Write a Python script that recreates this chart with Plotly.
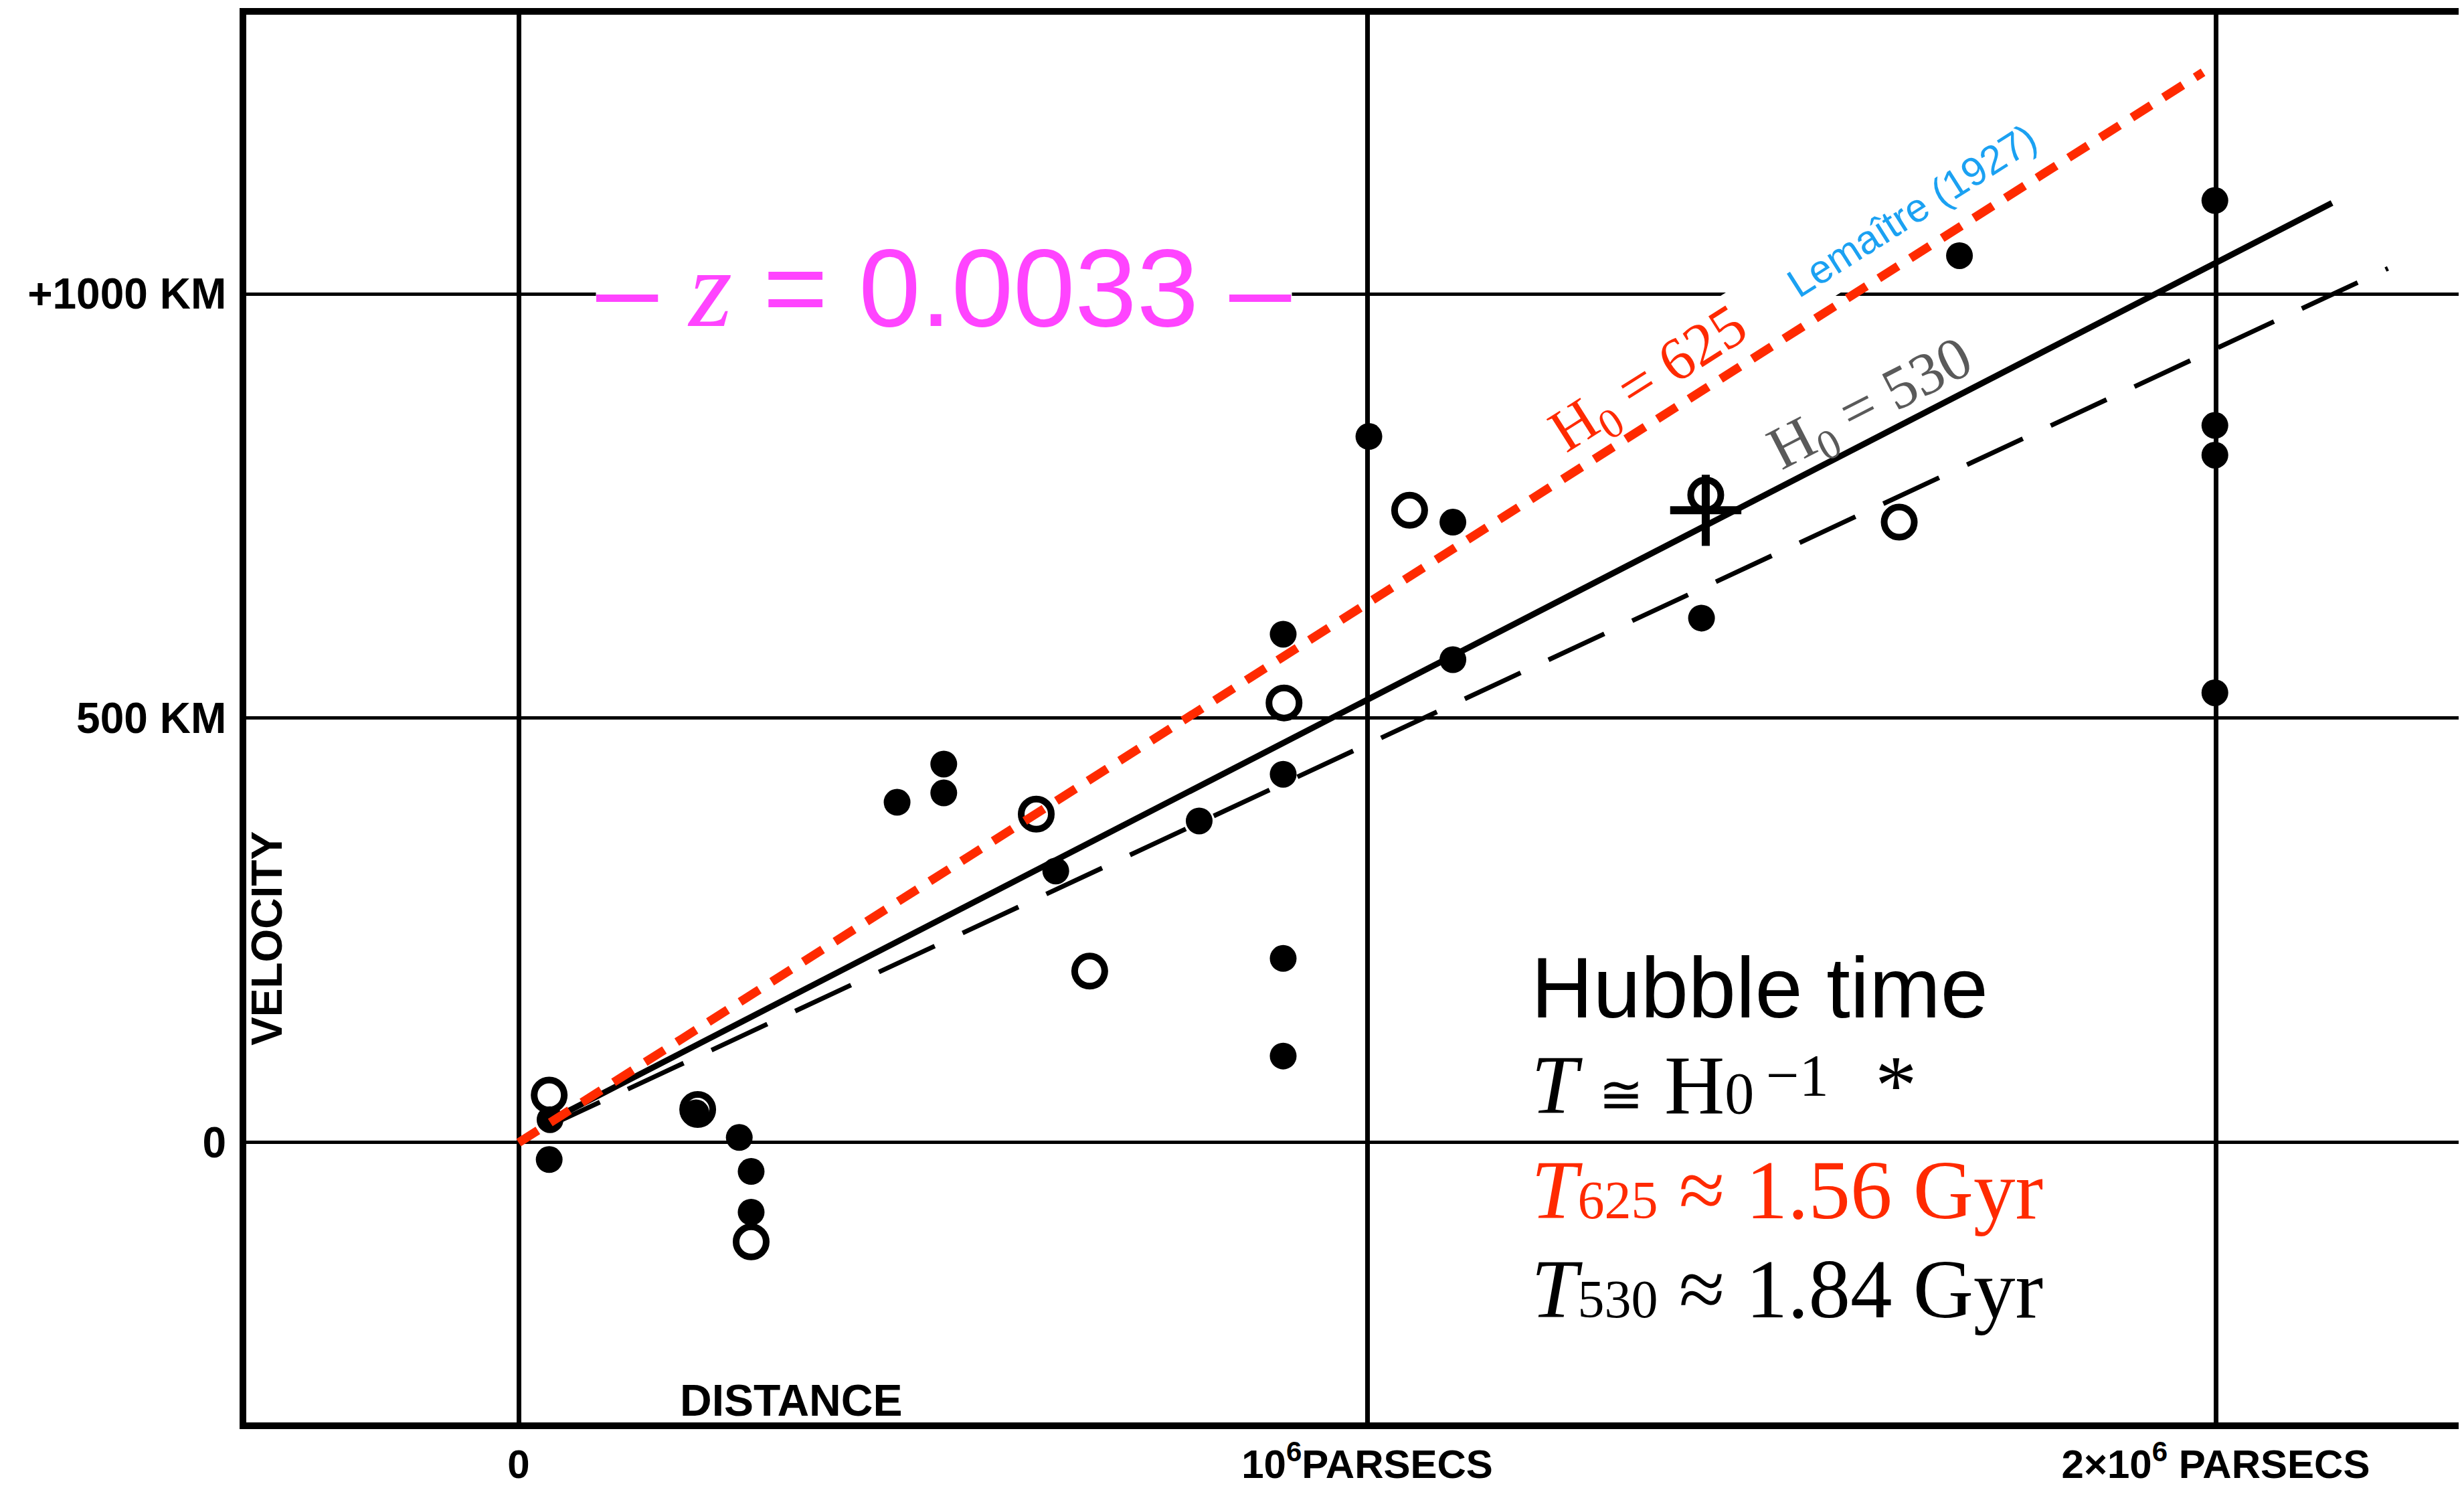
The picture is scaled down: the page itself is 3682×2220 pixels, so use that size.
import plotly.graph_objects as go

# ---- axis ticks ----
x_tickvals = [0, 1, 2]
x_ticktext = ["<b>0</b>", "<b>10<sup>6</sup>PARSECS</b>", "<b>2×10<sup>6</sup> PARSECS</b>"]
y_tickvals = [0, 500, 1000]
y_ticktext = ["<b>0</b>", "<b>500 KM</b>", "<b>+1000 KM</b>"]

# ---- data: distance (Mpc), velocity (km/s) ----
filled_x = [0.037, 0.036, 0.209, 0.260, 0.274, 0.274, 0.446, 0.501, 0.501, 0.633, 0.802,
            0.901, 0.901, 0.901, 0.901, 1.002, 1.101, 1.101, 1.394, 1.698, 1.999, 1.999, 1.999, 1.999]
filled_v = [27, -20, 35, 6, -34, -82, 401, 446, 412, 320, 379,
            599, 434, 217, 102, 832, 731, 569, 618, 1045, 1110, 845, 810, 530]

open_x = [0.036, 0.211, 0.274, 0.610, 0.673, 0.902, 1.050, 1.399, 1.627]
open_v = [56, 39, -117, 387, 202, 518, 745, 763, 731]

cross_x = [1.399]
cross_v = [745]

solid_x = [0.033, 2.137]
solid_v = [24, 1107]

dashed_x = [0.030, 2.203]
dashed_v = [17, 1030]

red_x = [0.0, 1.985]
red_v = [0, 1261]

RED = "#ff2a00"
MAGENTA = "#ff44ff"
BLUE = "#1ba1f2"
GRAY = "#5a5a5a"
SANS = "Liberation Sans, Arial, sans-serif"
SERIF = "Liberation Serif, Times New Roman, serif"

fig = go.Figure()
fig.add_trace(go.Scatter(x=dashed_x, y=dashed_v, mode="lines",
                         line=dict(color="black", width=7, dash="92px,46px")))
fig.add_trace(go.Scatter(x=solid_x, y=solid_v, mode="lines",
                         line=dict(color="black", width=9)))
fig.add_trace(go.Scatter(x=open_x, y=open_v, mode="markers",
                         marker=dict(symbol="circle-open", size=45, color="black",
                                     line=dict(width=10, color="black"))))
fig.add_trace(go.Scatter(x=filled_x, y=filled_v, mode="markers",
                         marker=dict(symbol="circle", size=40, color="black",
                                     line=dict(width=0))))
fig.add_trace(go.Scatter(x=cross_x, y=cross_v, mode="markers",
                         marker=dict(symbol="cross-thin-open", size=76, color="black",
                                     line=dict(width=12, color="black"))))
fig.add_trace(go.Scatter(x=red_x, y=red_v, mode="lines",
                         line=dict(color=RED, width=13, dash="34px,22px")))

ann = []
# z = 0.0033
ann.append(dict(x=0.5008, y=1007.5, xref="x", yref="y", showarrow=False,
                text="– <span style=\"font-family:'Liberation Serif';font-style:italic\">z</span> = 0.0033 –",
                font=dict(family=SANS, size=166, color=MAGENTA),
                bgcolor="white", borderpad=0, xanchor="center", yanchor="middle"))
# Lemaitre label (white box hides gridline)
ann.append(dict(x=1.5980, y=1069.5, xref="x", yref="y", showarrow=False,
                text="\u00a0\u00a0\u00a0\u00a0\u00a0\u00a0\u00a0\u00a0Lemaître (1927)", textangle=-32.4,
                font=dict(family=SANS, size=60, color=BLUE),
                bgcolor="white", borderpad=12, xanchor="center", yanchor="middle"))
ann.append(dict(x=1.3328, y=896.7, xref="x", yref="y", showarrow=False,
                text="H<sub>0</sub> = 625", textangle=-32.4,
                font=dict(family=SERIF, size=90, color=RED),
                xanchor="center", yanchor="middle"))
ann.append(dict(x=1.594, y=867.5, xref="x", yref="y", showarrow=False,
                text="H<sub>0</sub> = 530", textangle=-27.2,
                font=dict(family=SERIF, size=90, color=GRAY),
                xanchor="center", yanchor="middle"))
# axis titles inside the frame
ann.append(dict(x=-0.2966, y=240.5, xref="x", yref="y", showarrow=False,
                text="<b>VELOCITY</b>", textangle=-90,
                font=dict(family=SANS, size=64, color="black"),
                xanchor="center", yanchor="middle"))
ann.append(dict(x=0.321, y=-303.6, xref="x", yref="y", showarrow=False,
                text="<b>DISTANCE</b>",
                font=dict(family=SANS, size=66, color="black"),
                xanchor="center", yanchor="middle"))
# Hubble time block
XL = 1.1916
ann.append(dict(x=XL, y=182.6, xref="x", yref="y", showarrow=False,
                text="Hubble time", font=dict(family=SANS, size=128, color="black"),
                xanchor="left", yanchor="middle"))
ann.append(dict(x=XL, y=68, xref="x", yref="y", showarrow=False,
                text="<i>T</i> <span style=\"font-size:80px\">≅</span> H<span style=\"font-size:88px\">0</span>",
                font=dict(family=SERIF, size=125, color="black"),
                xanchor="left", yanchor="middle"))
ann.append(dict(x=1.4685, y=79.6, xref="x", yref="y", showarrow=False,
                text="−1", font=dict(family=SERIF, size=88, color="black"),
                xanchor="left", yanchor="middle"))
ann.append(dict(x=1.597, y=68, xref="x", yref="y", showarrow=False,
                text="*", font=dict(family=SERIF, size=125, color="black"),
                xanchor="left", yanchor="middle"))
ann.append(dict(x=XL, y=-55.8, xref="x", yref="y", showarrow=False,
                text="<i>T</i><span style=\"font-size:80px\">625</span> ≈ 1.56 Gyr",
                font=dict(family=SERIF, size=125, color=RED),
                xanchor="left", yanchor="middle"))
ann.append(dict(x=XL, y=-172.6, xref="x", yref="y", showarrow=False,
                text="<i>T</i><span style=\"font-size:80px\">530</span> ≈ 1.84 Gyr",
                font=dict(family=SERIF, size=125, color="black"),
                xanchor="left", yanchor="middle"))

fig.update_layout(
    width=3682, height=2220, autosize=False,
    margin=dict(l=360, r=0, t=14, b=103, pad=0),
    paper_bgcolor="white", plot_bgcolor="white",
    showlegend=False,
    annotations=ann,
    xaxis=dict(range=[-0.321, 2.2989], tickvals=x_tickvals, ticktext=x_ticktext,
               showgrid=True, gridcolor="black", gridwidth=7, zeroline=False,
               showline=True, linecolor="black", linewidth=10, mirror=True,
               ticks="", ticklabelstandoff=1, automargin=False,
               tickfont=dict(family=SANS, size=60, color="black")),
    yaxis=dict(range=[-329.7, 1328.9], tickvals=y_tickvals, ticktext=y_ticktext,
               showgrid=True, gridcolor="black", gridwidth=5, zeroline=False,
               showline=True, linecolor="black", linewidth=10, mirror=False,
               ticks="", ticklabelstandoff=7, automargin=False,
               tickfont=dict(family=SANS, size=64, color="black")),
)

fig.write_html("out.html")
